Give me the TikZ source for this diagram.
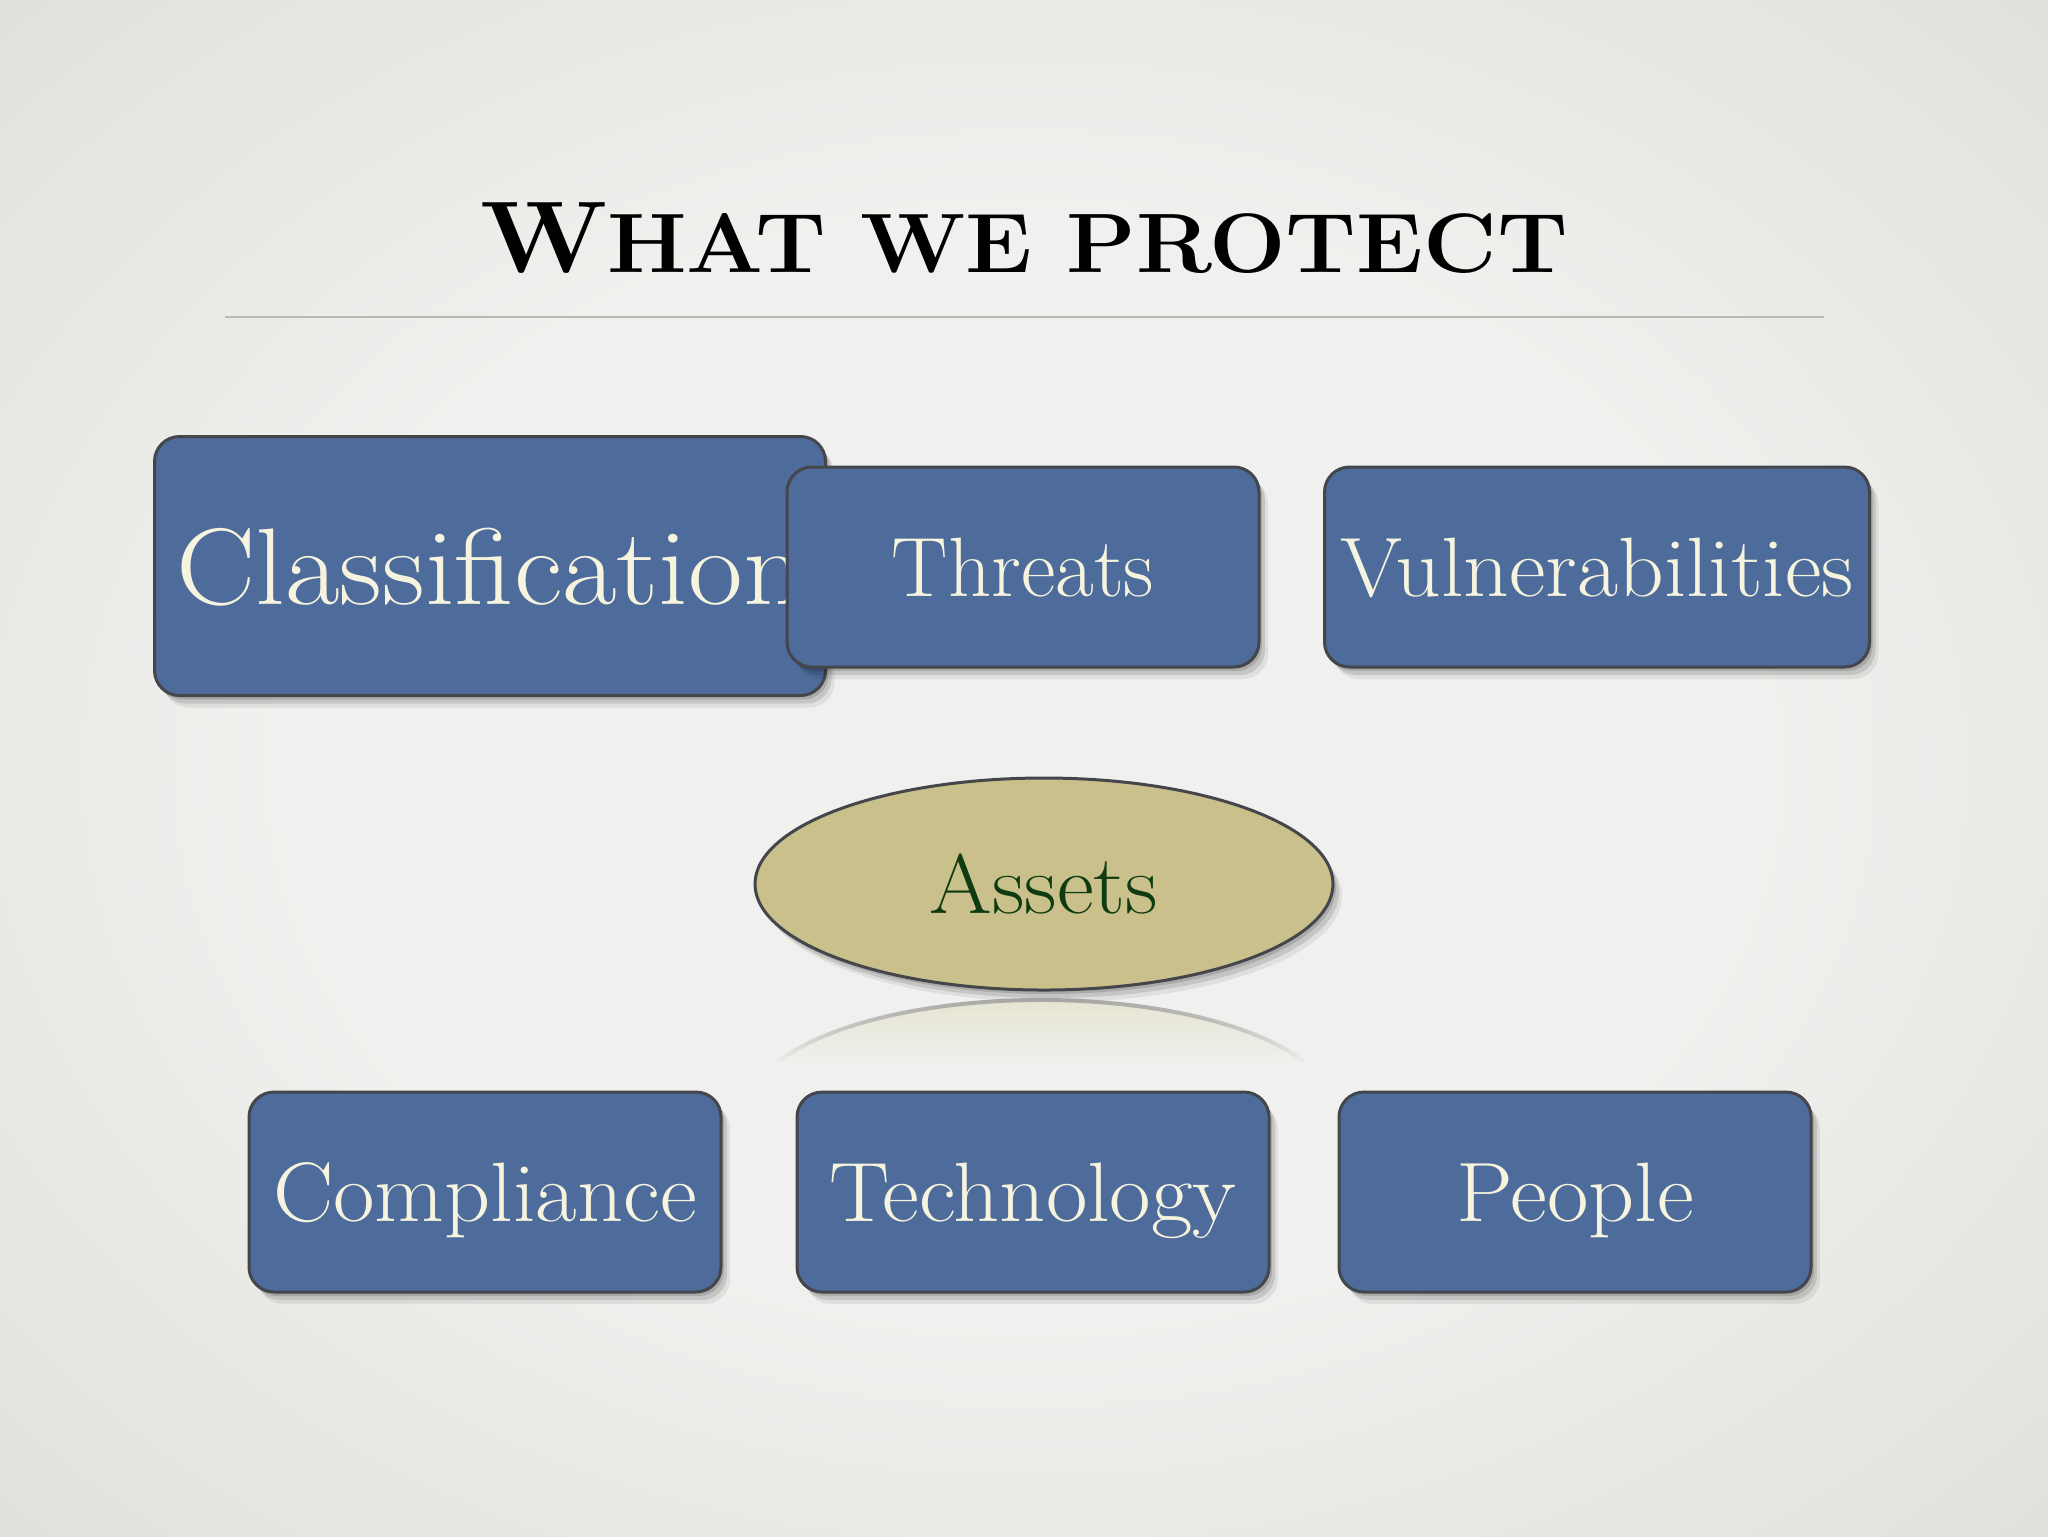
\documentclass[tikz,border=0pt]{standalone}
\usepackage{tikz}
\usetikzlibrary{shapes.geometric}
\usetikzlibrary{shadows}
\usetikzlibrary{fadings}
\definecolor{bgin}{HTML}{F0F0EE}
\definecolor{bgout}{HTML}{D3D3CC}
\definecolor{boxblue}{HTML}{4D6B9B}
\definecolor{boxline}{HTML}{44464B}
\definecolor{boxtext}{HTML}{F6F3DE}
\definecolor{assetfill}{HTML}{C9C08B}
\definecolor{assettext}{HTML}{0E3B10}
\definecolor{rulegray}{HTML}{B8B8B4}
\definecolor{reflfill}{HTML}{E4E2CC}
\pgfdeclareradialshading{bgglow}{\pgfpoint{0bp}{0bp}}{color(0bp)=(bgin); color(18bp)=(bgin); color(50bp)=(bgout)}
\newcommand{\widetxt}[2][1.07]{\scalebox{#1}[1]{#2}}

\begin{document}
\begin{tikzpicture}[x=0.1mm,y=-0.1mm,
  softshadow/.style={
    drop shadow={shadow xshift=0.3mm, shadow yshift=-0.4mm, fill=black, opacity=0.14},
    drop shadow={shadow xshift=0.6mm, shadow yshift=-0.8mm, fill=black, opacity=0.11},
    drop shadow={shadow xshift=0.9mm, shadow yshift=-1.2mm, fill=black, opacity=0.07}},
  box/.style={rounded corners=2.5mm, draw=boxline, line width=0.3mm, fill=boxblue,
    text=boxtext, inner sep=0pt, minimum width=47.2mm, minimum height=20mm,
    text depth=0pt, font=\fontsize{24}{26}\selectfont, softshadow}]
\useasboundingbox (0,0) rectangle (2048,1536);
\shade[shading=bgglow] (0,0) rectangle (2048,1536);
% title and rule
\node[anchor=base] (title) at (1024,272)
  {\widetxt[1.074]{\bfseries\fontsize{29}{30}\selectfont W\fontsize{24}{26}\selectfont HAT WE PROTECT}};
\draw[rulegray, line width=0.2mm] (225,317) -- (1824,317);
% top row
\node[box, minimum width=67.1mm, minimum height=25.9mm, font=\fontsize{31}{33}\selectfont]
  (classif) at (490,566) {\widetxt[1.09]{Classification}};
\node[box] (threats) at (1023,567) {Threats};
\node[box, minimum width=54.5mm] (vulns) at (1597,567) {\widetxt[1.06]{Vulnerabilities}};
% centre
\node[ellipse, draw=boxline, line width=0.3mm, fill=assetfill, text=assettext,
  minimum width=57.8mm, minimum height=21.2mm, inner sep=0pt,
  font=\fontsize{24}{26}\selectfont, softshadow]
  (assets) at (1044,884) {\widetxt{Assets}};
%% reflection
\fill[reflfill, path fading=south] (1304,1062)
  arc [start angle=24.5, end angle=155.5, x radius=28.9mm, y radius=10.6mm] -- cycle;
\draw[black!40, line width=0.4mm, path fading=south] (1304,1062)
  arc [start angle=24.5, end angle=155.5, x radius=28.9mm, y radius=10.6mm];
% bottom row
\foreach \name/\x/\txt in {compliance/485/Compliance, technology/1033/Technology, people/1575/People}
  \node[box] (\name) at (\x,1192) {\widetxt{\txt}};
\end{tikzpicture}
\end{document}
